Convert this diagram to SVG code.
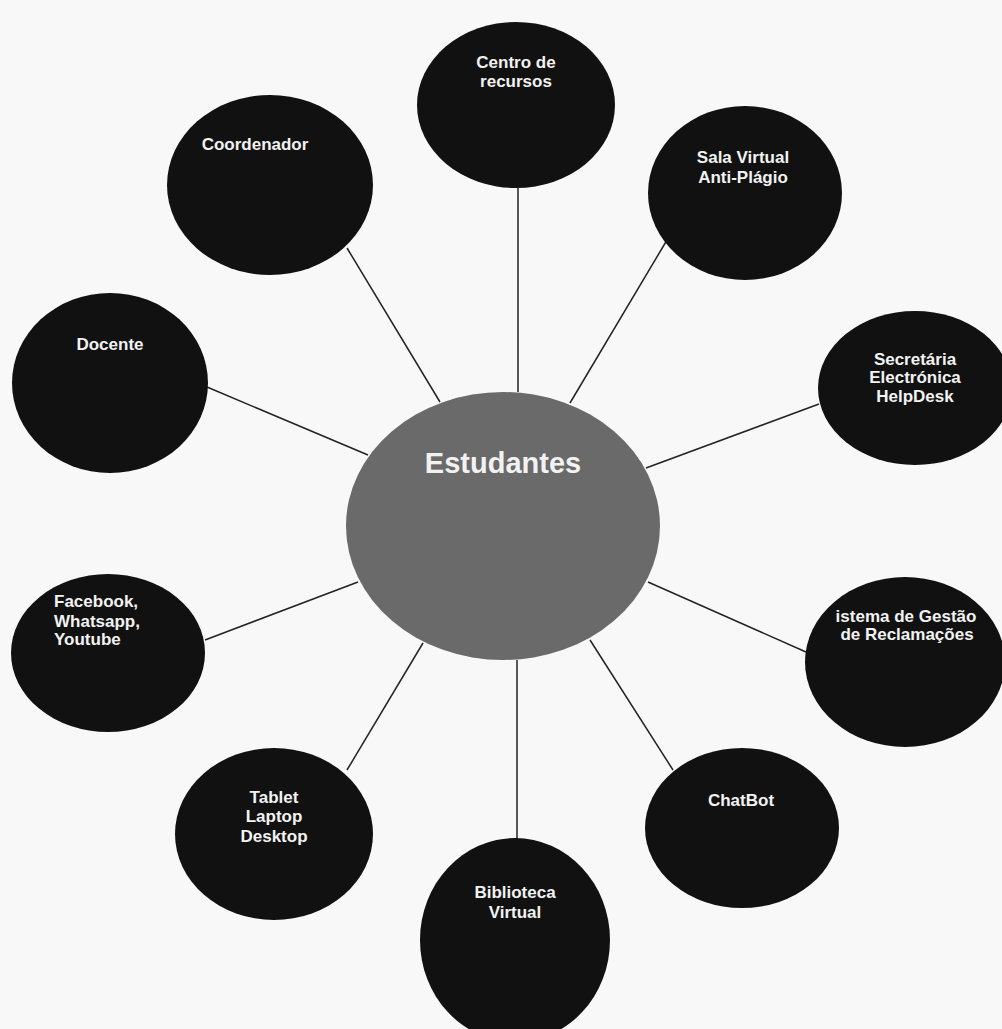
<svg xmlns="http://www.w3.org/2000/svg" width="1002" height="1029" viewBox="0 0 1002 1029">
<style>
.node{fill:#111111;}
.hub{fill:#6a6a6a;}
.lbl{font-family:"Liberation Sans",Arial,sans-serif;font-weight:bold;font-size:17px;fill:#f2f2f2;text-anchor:middle;}
.hubl{font-family:"Liberation Sans",Arial,sans-serif;font-weight:bold;font-size:29px;fill:#f2f2f2;text-anchor:middle;}
.conn line{stroke:#222222;stroke-width:1.5;}
</style>
<rect x="0" y="0" width="1002" height="1029" fill="#f8f8f8"/>
<g id="connectors" class="conn">
<line x1="518" y1="188" x2="518" y2="392"/>
<line x1="347" y1="248" x2="440" y2="402"/>
<line x1="667" y1="240" x2="570" y2="403"/>
<line x1="207" y1="387" x2="368" y2="455"/>
<line x1="819" y1="404" x2="646" y2="468"/>
<line x1="205" y1="640" x2="358" y2="582"/>
<line x1="648" y1="582" x2="806" y2="652"/>
<line x1="347" y1="770" x2="423" y2="643"/>
<line x1="517" y1="660" x2="517" y2="840"/>
<line x1="590" y1="640" x2="673" y2="770"/>
</g>
<g id="estudantes">
<ellipse class="hub" cx="503" cy="526" rx="157" ry="134"/>
<text class="hubl" x="503" y="473">Estudantes</text>
</g>
<g id="centro-recursos">
<ellipse class="node" cx="516" cy="105" rx="99" ry="83"/>
<text class="lbl" x="516" y="68">Centro de</text>
<text class="lbl" x="516" y="87">recursos</text>
</g>
<g id="coordenador">
<ellipse class="node" cx="270" cy="185" rx="103" ry="90"/>
<text class="lbl" x="255" y="150">Coordenador</text>
</g>
<g id="sala-virtual">
<ellipse class="node" cx="745" cy="193" rx="97" ry="87"/>
<text class="lbl" x="743" y="163">Sala Virtual</text>
<text class="lbl" x="743" y="183">Anti-Plágio</text>
</g>
<g id="docente">
<ellipse class="node" cx="110" cy="383" rx="98" ry="90"/>
<text class="lbl" x="110" y="350">Docente</text>
</g>
<g id="secretaria">
<ellipse class="node" cx="915" cy="388" rx="97" ry="77"/>
<text class="lbl" x="915" y="365">Secretária</text>
<text class="lbl" x="915" y="383">Electrónica</text>
<text class="lbl" x="915" y="402">HelpDesk</text>
</g>
<g id="redes-sociais">
<ellipse class="node" cx="108" cy="653" rx="97" ry="79"/>
<text class="lbl" x="54" y="607" style="text-anchor:start">Facebook,</text>
<text class="lbl" x="54" y="627" style="text-anchor:start">Whatsapp,</text>
<text class="lbl" x="54" y="645" style="text-anchor:start">Youtube</text>
</g>
<g id="sistema-gestao">
<ellipse class="node" cx="905" cy="662" rx="100" ry="85"/>
<text class="lbl" x="906" y="622">istema de Gestão</text>
<text class="lbl" x="907" y="640">de Reclamações</text>
</g>
<g id="dispositivos">
<ellipse class="node" cx="274" cy="834" rx="99" ry="86"/>
<text class="lbl" x="274" y="803">Tablet</text>
<text class="lbl" x="274" y="822">Laptop</text>
<text class="lbl" x="274" y="842">Desktop</text>
</g>
<g id="biblioteca">
<ellipse class="node" cx="515" cy="940" rx="95" ry="102"/>
<text class="lbl" x="515" y="898">Biblioteca</text>
<text class="lbl" x="515" y="918">Virtual</text>
</g>
<g id="chatbot">
<ellipse class="node" cx="742" cy="828" rx="97" ry="80"/>
<text class="lbl" x="741" y="806">ChatBot</text>
</g>
</svg>
